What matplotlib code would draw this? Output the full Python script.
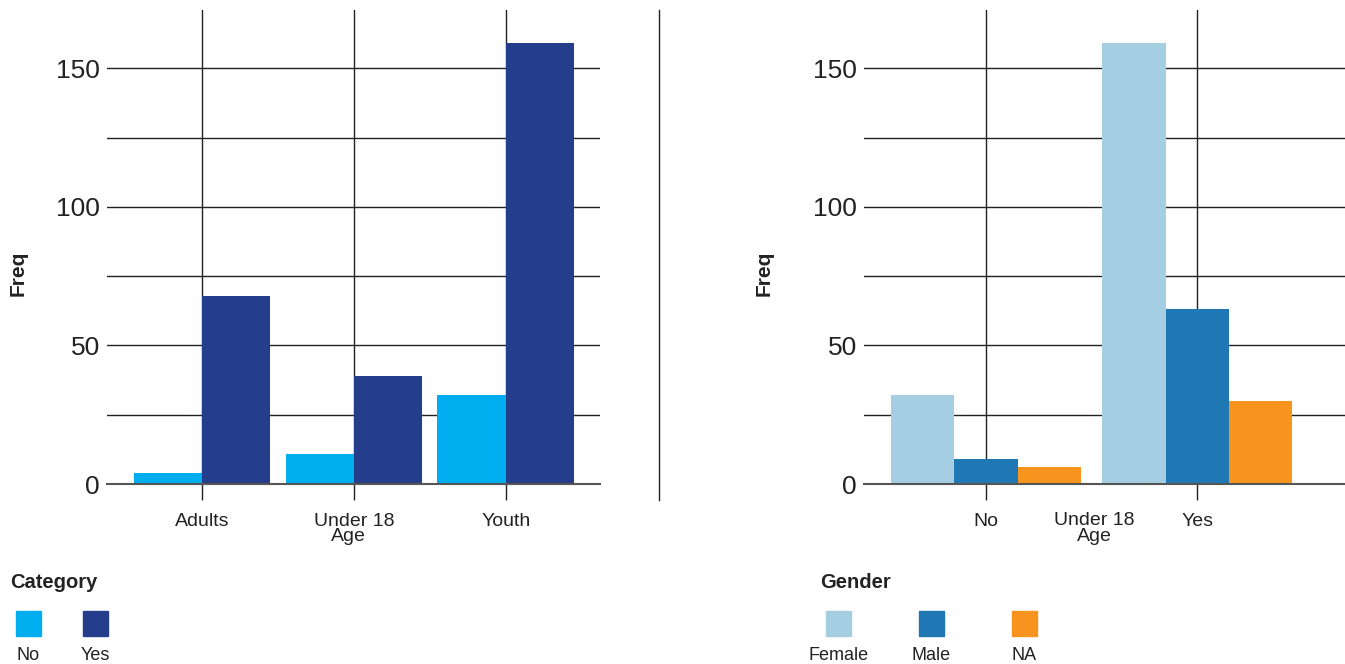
import numpy as np
import matplotlib
matplotlib.use('Agg')
import matplotlib.pyplot as plt
from matplotlib.patches import Rectangle
from matplotlib.lines import Line2D

plt.rcParams['font.family'] = ['Liberation Sans', 'DejaVu Sans']

# data
age_groups = ['Adults', 'Under 18', 'Youth']
category_levels = ['No', 'Yes']
freq_by_category = {'No': [4, 11, 32], 'Yes': [68, 39, 159]}
category_colors = {'No': '#00AEEF', 'Yes': '#243E8C'}

answer_groups = ['No', 'Yes']
gender_levels = ['Female', 'Male', 'NA']
freq_by_gender = {'Female': [32, 159], 'Male': [9, 63], 'NA': [6, 30]}
gender_colors = {'Female': '#A6CEE3', 'Male': '#1F78B4', 'NA': '#F7941D'}

W, H = 1345, 664
fig = plt.figure(figsize=(W / 100, H / 100), dpi=100)

def px_axes(x0, y0, x1, y1):
    # pixel box (top-left origin) -> figure fraction
    return fig.add_axes([x0 / W, 1 - y1 / H, (x1 - x0) / W, (y1 - y0) / H])

def style(ax, ticks, labels):
    ax.set_ylim(0, 171)
    ax.set_yticks([0, 50, 100, 150])
    ax.set_yticks([25, 75, 125], minor=True)
    ax.tick_params(axis='y', which='both', length=0, labelsize=19, pad=5, colors='#222222')
    ax.set_xticks(ticks)
    ax.set_xticklabels(labels)
    ax.tick_params(axis='x', length=11.5, width=1.0, color='#222222', labelsize=14, pad=9.5,
                   labelcolor='#222222')
    ax.grid(True, which='both', axis='y', color='#222222', lw=1.0)
    ax.grid(True, which='major', axis='x', color='#222222', lw=1.0)
    ax.set_axisbelow(True)
    for s in ('top', 'right', 'left'):
        ax.spines[s].set_visible(False)
    ax.spines['bottom'].set_color('#555555')
    ax.spines['bottom'].set_linewidth(1.5)
    ax.set_ylabel('Freq', fontsize=15, fontweight='bold', color='#222222', va='center')

# left panel
ax1 = px_axes(107, 10, 600, 484)
x = np.arange(1, len(age_groups) + 1)
bw = 0.45
for i, lev in enumerate(category_levels):
    ax1.bar(x + (i - 0.5) * bw, freq_by_category[lev], width=bw, color=category_colors[lev], zorder=2)
ax1.set_xlim(0.375, 3.62)
style(ax1, x, age_groups)
ax1.set_xlabel('Age', fontsize=14, color='#222222')
ax1.xaxis.set_label_coords(0.489, -0.093)
ax1.yaxis.set_label_coords(-(107 - 18) / 493, 0.445)

# right panel
ax2 = px_axes(864, 10, 1345, 484)
x2 = np.arange(1, len(answer_groups) + 1)
bw2 = 0.3
for i, lev in enumerate(gender_levels):
    ax2.bar(x2 + (i - 1) * bw2, freq_by_gender[lev], width=bw2, color=gender_colors[lev], zorder=2)
ax2.set_xlim(0.422, 2.70)
style(ax2, x2, answer_groups)
ax2.set_xlabel('Under 18\nAge', fontsize=14, color='#222222', linespacing=0.9)
ax2.xaxis.set_label_coords(0.478, -0.059)
ax2.yaxis.set_label_coords(-(864 - 764) / 481, 0.445)

# separator between the two panels
fig.add_artist(Line2D([659 / W, 659 / W], [1 - 500 / H, 1 - 10 / H], color='#222222', lw=1.0))

# legends drawn by hand
def legend(title, tx, levels, colors, x0s):
    fig.text(tx / W, 1 - 582 / H, title, fontsize=14.5, fontweight='bold', color='#222222',
             ha='left', va='center')
    for lev, xs in zip(levels, x0s):
        fig.add_artist(Rectangle((xs / W, 1 - 636 / H), 25 / W, 25 / H,
                                 transform=fig.transFigure, color=colors[lev]))
        fig.text((xs + 12.5) / W, 1 - 655 / H, lev, fontsize=13, color='#222222',
                 ha='center', va='center')

legend('Category', 10, category_levels, category_colors, [16, 83])
legend('Gender', 820, gender_levels, gender_colors, [826, 919, 1012])

fig.savefig('out.png', dpi=100)
